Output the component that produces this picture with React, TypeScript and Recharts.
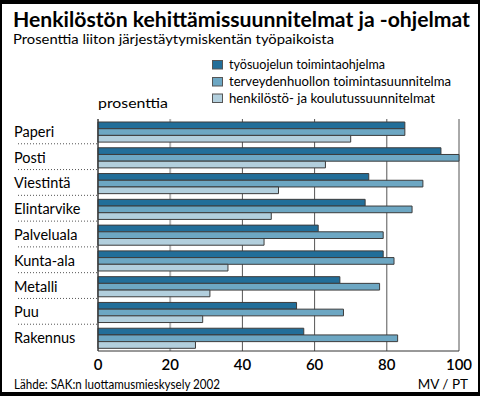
import React from 'react';
import { BarChart, Bar, XAxis, YAxis, CartesianGrid } from 'recharts';

const categories = ['Paperi', 'Posti', 'Viestintä', 'Elintarvike', 'Palveluala', 'Kunta-ala', 'Metalli', 'Puu', 'Rakennus'];
const tyosuojelu = [85, 95, 75, 74, 61, 79, 67, 55, 57];
const terveydenhuolto = [85, 100, 90, 87, 79, 82, 78, 68, 83];
const henkilosto = [70, 63, 50, 48, 46, 36, 31, 29, 27];
const seriesNames = ['työsuojelun toimintaohjelma', 'terveydenhuollon toimintasuunnitelma', 'henkilöstö- ja koulutussuunnitelmat'];
const xTicks = [0, 20, 40, 60, 80, 100];

const title = 'Henkilöstön kehittämissuunnitelmat ja -ohjelmat';
const subtitle = 'Prosenttia liiton järjestäytymiskentän työpaikoista';
const unitLabel = 'prosenttia';
const source = 'Lähde: SAK:n luottamusmieskysely 2002';
const credit = 'MV / PT';

const data = categories.map((c, i) => ({
  name: c,
  s0: tyosuojelu[i],
  s1: terveydenhuolto[i],
  s2: henkilosto[i],
}));

const COLORS = ['#226e99', '#6da7c3', '#b2cfdd'];
const STROKE = '#3c3c3c';
const FONT = 'Lato, "Open Sans", sans-serif';

const PLOT_TOP = 119;
const PLOT_BOTTOM = 351;
const BAND = (PLOT_BOTTOM - PLOT_TOP) / categories.length;

const CatTick = (props: any) => {
  const { y, payload } = props;
  const isLast = payload.value === categories[categories.length - 1];
  return (
    <g>
      <text x={14} y={y} dy={5} fontSize={14.5} fill="#000" fontFamily={FONT}>
        {payload.value}
      </text>
      {!isLast && (
        <line x1={18} x2={97} y1={y + BAND / 2 - 1} y2={y + BAND / 2 - 1} stroke="#555" strokeWidth={1} strokeDasharray="1 2" />
      )}
    </g>
  );
};

const gridLine = (p: any) => (
  <line
    key={p.key}
    x1={p.x1}
    x2={p.x2}
    y1={p.y1}
    y2={p.y2}
    stroke={p.index === 1 ? '#b4b4b4' : '#555'}
    strokeWidth={p.index === 1 ? 2 : 1}
  />
);

export default function App() {
  const legendRows = [69, 86, 102.5];
  const legendLens = [156, 222, 206];
  return (
    <div style={{ position: 'absolute', left: 0, top: 0, width: 480, height: 396, background: '#fff' }}>
      <BarChart
        width={480}
        height={396}
        layout="vertical"
        data={data}
        margin={{ top: PLOT_TOP, right: 21, left: 0, bottom: 396 - PLOT_BOTTOM - 30 }}
        barGap={0}
        barSize={6.7}
      >
        <CartesianGrid horizontal={false} vertical={gridLine} />
        <XAxis
          type="number"
          domain={[0, 100]}
          ticks={xTicks}
          height={30}
          axisLine={{ stroke: '#333' }}
          tickLine={false}
          tick={{ fontSize: 15, fill: '#000', fontFamily: FONT, fontWeight: 600 }}
          interval={0}
        />
        <YAxis
          type="category"
          dataKey="name"
          width={98}
          axisLine={{ stroke: '#333' }}
          tickLine={false}
          tick={<CatTick />}
          interval={0}
        />
        <Bar dataKey="s0" name={seriesNames[0]} fill={COLORS[0]} stroke={STROKE} strokeWidth={1} isAnimationActive={false} />
        <Bar dataKey="s1" name={seriesNames[1]} fill={COLORS[1]} stroke={STROKE} strokeWidth={1} isAnimationActive={false} />
        <Bar dataKey="s2" name={seriesNames[2]} fill={COLORS[2]} stroke={STROKE} strokeWidth={1} isAnimationActive={false} />
      </BarChart>
      <svg
        width={480}
        height={396}
        style={{ position: 'absolute', left: 0, top: 0, pointerEvents: 'none' }}
      >
        <rect x={0} y={0} width={480} height={4} fill="#000" />
        <rect x={0} y={392} width={480} height={4} fill="#000" />
        <rect x={0} y={0} width={2} height={396} fill="#000" />
        <rect x={478} y={0} width={2} height={396} fill="#000" />
        <text x={13} y={27} fontSize={21} fontWeight={700} fontFamily={FONT} fill="#000" textLength={457} lengthAdjust="spacingAndGlyphs">
          {title}
        </text>
        <text x={13} y={44} fontSize={13.5} fontFamily={FONT} fill="#000" textLength={321} lengthAdjust="spacingAndGlyphs">
          {subtitle}
        </text>
        {seriesNames.map((n, i) => (
          <g key={n}>
            <rect x={212.5} y={legendRows[i] - 8.5} width={10} height={8.5} fill={COLORS[i]} stroke="#555" strokeWidth={1} />
            <text x={229} y={legendRows[i]} fontSize={13.5} fontFamily={FONT} fill="#000" textLength={legendLens[i]} lengthAdjust="spacingAndGlyphs">
              {n}
            </text>
          </g>
        ))}
        <text x={98} y={107.5} fontSize={13.5} fontFamily={FONT} fill="#000" textLength={70} lengthAdjust="spacingAndGlyphs">
          {unitLabel}
        </text>
        <text x={14} y={389} fontSize={13.5} fontFamily={FONT} fill="#000" textLength={206} lengthAdjust="spacingAndGlyphs">
          {source}
        </text>
        <text x={468} y={389} fontSize={13.5} fontFamily={FONT} fill="#000" textAnchor="end">
          {credit}
        </text>
      </svg>
    </div>
  );
}
